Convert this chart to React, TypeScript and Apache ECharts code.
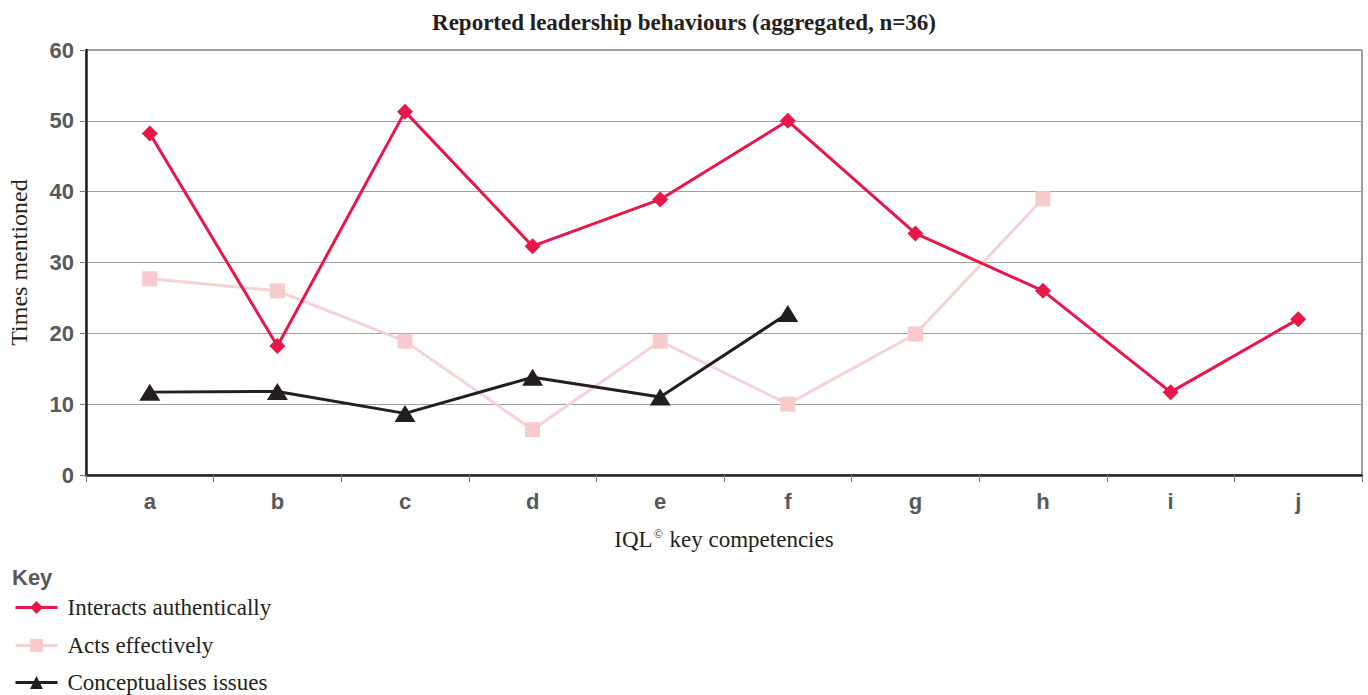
import React, { useEffect, useRef } from "react";
import * as echarts from "echarts";

const categories = ["a", "b", "c", "d", "e", "f", "g", "h", "i", "j"];
const interactsAuthentically = [48.2, 18.2, 51.3, 32.3, 38.9, 50, 34.1, 26, 11.7, 22];
const actsEffectively = [27.7, 26, 18.9, 6.4, 18.9, 10, 19.9, 39, null, null];
const conceptualisesIssues = [11.7, 11.8, 8.7, 13.8, 11, 22.8, null, null, null, null];
const seriesNames = ["Interacts authentically", "Acts effectively", "Conceptualises issues"];

const SERIF = "'Liberation Serif', 'DejaVu Serif', serif";
const SANS = "'Liberation Sans', Arial, sans-serif";
const GREY = "#58595b";
const INK = "#231f20";

// One legend row per series, stacked under the "Key" heading
const legendRowTops = [596, 634, 671];

export default function App() {
  const ref = useRef<HTMLDivElement>(null);

  useEffect(() => {
    if (!ref.current) return;
    const chart = echarts.init(ref.current, null, { renderer: "svg" });
    chart.setOption({
      animation: false,
      backgroundColor: "#ffffff",
      title: {
        text: "Reported leadership behaviours (aggregated, n=36)",
        left: "center",
        top: 6,
        textStyle: { fontFamily: SERIF, fontWeight: "bold", fontSize: 23, color: INK },
      },
      grid: {
        left: 86,
        right: 6,
        top: 50,
        bottom: 220,
        outerBoundsMode: "none",
        show: true,
        borderColor: "#3a3a3a",
        borderWidth: 1,
      },
      xAxis: {
        type: "category",
        data: categories,
        boundaryGap: true,
        axisLine: { lineStyle: { color: INK, width: 2.5 } },
        axisTick: { show: true, length: 7, lineStyle: { color: "#777" } },
        axisLabel: { fontFamily: SANS, fontWeight: "bold", fontSize: 22, color: GREY, margin: 15 },
        name: "{a|IQL}{s|©}{a| key competencies}",
        nameLocation: "middle",
        nameGap: 53,
        nameTextStyle: {
          rich: {
            a: { fontFamily: SERIF, fontSize: 23, color: INK },
            s: { fontFamily: SERIF, fontSize: 12, color: INK, padding: [0, 1, 11, 1] },
          },
        },
      },
      yAxis: {
        type: "value",
        min: 0,
        max: 60,
        interval: 10,
        axisLine: { show: true, lineStyle: { color: INK, width: 2.5 } },
        axisTick: { show: true, length: 6, lineStyle: { color: "#777" } },
        axisLabel: { fontFamily: SANS, fontWeight: "bold", fontSize: 22, color: GREY, margin: 12 },
        splitLine: { lineStyle: { color: "#a0a0a0", width: 1 } },
        name: "Times mentioned",
        nameLocation: "middle",
        nameGap: 55,
        nameTextStyle: { fontFamily: SERIF, fontSize: 24, color: INK },
      },
      legend: seriesNames.map((name, i) => ({
        orient: "vertical",
        left: 14,
        top: legendRowTops[i],
        padding: 0,
        itemWidth: 42,
        itemHeight: 16,
        lineStyle: { width: 3 },
        textStyle: { fontFamily: SERIF, fontSize: 23, color: INK, padding: [0, 0, 0, 5] },
        data: [name],
      })),
      graphic: [
        {
          type: "text",
          left: 12,
          top: 566,
          style: { text: "Key", fontFamily: SANS, fontWeight: "bold", fontSize: 22, fill: GREY },
        },
      ],
      series: [
        {
          name: seriesNames[1],
          type: "line",
          data: actsEffectively,
          symbol: "rect",
          symbolSize: 15,
          lineStyle: { color: "#f5d3d3", width: 3 },
          itemStyle: { color: "#f7cbcc" },
          z: 2,
        },
        {
          name: seriesNames[0],
          type: "line",
          data: interactsAuthentically,
          symbol: "diamond",
          symbolSize: 16,
          lineStyle: { color: "#e8174a", width: 3 },
          itemStyle: { color: "#e8174a" },
          z: 3,
        },
        {
          name: seriesNames[2],
          type: "line",
          data: conceptualisesIssues,
          symbol: "triangle",
          symbolSize: [21, 17],
          lineStyle: { color: INK, width: 3 },
          itemStyle: { color: INK },
          z: 4,
        },
      ],
    });
    return () => chart.dispose();
  }, []);

  return <div ref={ref} style={{ width: 1368, height: 695, position: "absolute", left: 0, top: 0 }} />;
}
